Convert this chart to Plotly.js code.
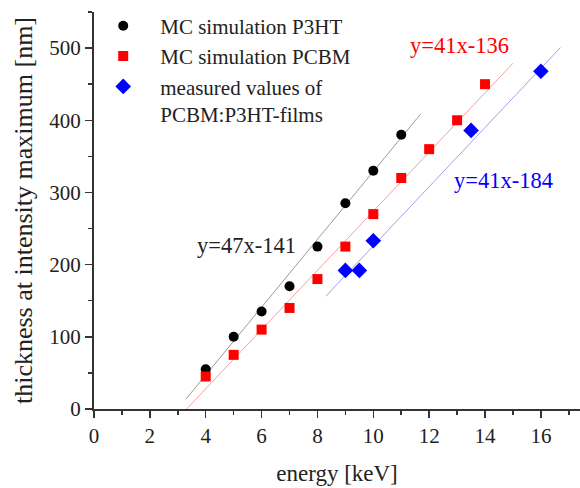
<!DOCTYPE html>
<html>
<head>
<meta charset="utf-8">
<script src="https://cdn.plot.ly/plotly-3.0.1.min.js"></script>
<style>html,body{margin:0;padding:0;background:#fff;}#chart{width:580px;height:488px;}</style>
</head>
<body>
<div id="chart"></div>
<script>
// Data
const p3htEnergy = [4, 5, 6, 7, 8, 9, 10, 11];
const p3htThickness = [55, 100, 135, 170, 225, 285, 330, 380];
const pcbmEnergy = [4, 5, 6, 7, 8, 9, 10, 11, 12, 13, 14];
const pcbmThickness = [45, 75, 110, 140, 180, 225, 270, 320, 360, 400, 450];
const measEnergy = [9, 9.5, 10, 13.5, 16];
const measThickness = [192, 192, 233, 386, 468];
// Linear fits (slope, intercept) and drawn x-extent
const fitP3HT = {slope: 47, intercept: -141, x: [3.3, 11.7]};
const fitPCBM = {slope: 41, intercept: -136, x: [3.32, 15.0]};
const fitMeas = {slope: 41, intercept: -184, x: [8.3, 16.7]};
const xTicks = [0, 2, 4, 6, 8, 10, 12, 14, 16];
const yTicks = [0, 100, 200, 300, 400, 500];

const FONT = 'Liberation Serif, Times New Roman, serif';
function fitLine(f, color) {
  return {
    x: f.x, y: f.x.map(v => f.slope * v + f.intercept),
    mode: 'lines', line: {color: color, width: 1}, showlegend: false, hoverinfo: 'skip'
  };
}
const traces = [
  fitLine(fitP3HT, '#9a9a9a'),
  fitLine(fitPCBM, '#f4a0a0'),
  fitLine(fitMeas, '#a0a0f0'),
  {x: p3htEnergy, y: p3htThickness, mode: 'markers', name: 'MC simulation P3HT',
   marker: {symbol: 'circle', size: 10, color: '#000000'}},
  {x: pcbmEnergy, y: pcbmThickness, mode: 'markers', name: 'MC simulation PCBM',
   marker: {symbol: 'square', size: 10, color: '#ff0000'}},
  {x: measEnergy, y: measThickness, mode: 'markers', name: 'measured values of<br>PCBM:P3HT-films',
   marker: {symbol: 'diamond', size: 12, color: '#0000ff'}}
];
const axisCommon = {
  showline: true, linecolor: '#333', linewidth: 2, ticks: 'outside', ticklen: 7, tickwidth: 1.5,
  tickcolor: '#333', showgrid: false, zeroline: false, mirror: false,
  tickfont: {family: FONT, size: 21, color: '#222'}
};
const layout = {
  width: 580, height: 488,
  margin: {l: 94, r: 0, t: 12, b: 79},
  paper_bgcolor: '#fff', plot_bgcolor: '#fff',
  showlegend: true,
  legend: {x: -0.016, y: 1.016, xanchor: 'left', yanchor: 'top', itemwidth: 64, valign: 'top',
           bgcolor: 'rgba(0,0,0,0)', font: {family: FONT, size: 21, color: '#222'}},
  xaxis: Object.assign({}, axisCommon, {
    range: [0, 17.4], tickvals: xTicks, ticktext: xTicks.map(String),
    minor: {dtick: 1, ticks: 'outside', ticklen: 4, tickcolor: '#333', tickwidth: 1.5},
    title: {text: 'energy [keV]', font: {family: FONT, size: 23, color: '#222'}, standoff: 18}
  }),
  yaxis: Object.assign({}, axisCommon, {
    range: [0, 550], tickvals: yTicks, ticktext: yTicks.map(String),
    minor: {dtick: 50, ticks: 'outside', ticklen: 4, tickcolor: '#333', tickwidth: 1.5},
    title: {text: 'thickness at intensity maximum [nm]', font: {family: FONT, size: 26, color: '#222'}, standoff: 9}
  }),
  annotations: [
    {x: 5.47, y: 227, xref: 'x', yref: 'y', text: 'y=47x-141', showarrow: false,
     font: {family: FONT, size: 22.5, color: '#222'}},
    {x: 13.1, y: 504, xref: 'x', yref: 'y', text: 'y=41x-136', showarrow: false,
     font: {family: FONT, size: 22.5, color: '#ff0000'}},
    {x: 14.65, y: 317, xref: 'x', yref: 'y', text: 'y=41x-184', showarrow: false,
     font: {family: FONT, size: 22.5, color: '#0000ff'}}
  ]
};
Plotly.newPlot('chart', traces, layout, {displayModeBar: false, staticPlot: true});
</script>
</body>
</html>
